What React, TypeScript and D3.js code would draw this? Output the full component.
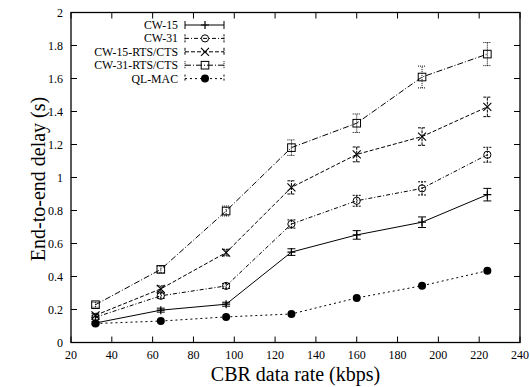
import * as d3 from "d3";

const rates = [32, 64, 96, 128, 160, 192, 224];
const cw15 = [0.118, 0.196, 0.232, 0.548, 0.652, 0.729, 0.896];
const cw15Err = [0.01, 0.012, 0.012, 0.02, 0.026, 0.032, 0.038];
const cw31 = [0.153, 0.283, 0.343, 0.718, 0.859, 0.934, 1.138];
const cw31Err = [0.012, 0.015, 0.015, 0.025, 0.033, 0.04, 0.045];
const cw15Rts = [0.165, 0.325, 0.545, 0.94, 1.14, 1.248, 1.428];
const cw15RtsErr = [0.012, 0.018, 0.02, 0.04, 0.045, 0.053, 0.059];
const cw31Rts = [0.229, 0.443, 0.797, 1.181, 1.329, 1.609, 1.748];
const cw31RtsErr = [0.015, 0.02, 0.03, 0.047, 0.056, 0.066, 0.07];
const qlMac = [0.115, 0.13, 0.155, 0.173, 0.27, 0.344, 0.435];

const xTicks = [20, 40, 60, 80, 100, 120, 140, 160, 180, 200, 220, 240];
const yTicks = [0, 0.2, 0.4, 0.6, 0.8, 1, 1.2, 1.4, 1.6, 1.8, 2];

type Marker = "plus" | "circle" | "cross" | "square" | "dot";

interface Series
{
    name: string;
    values: number[];
    err: number[] | null;
    dash: string;
    errDash: string;
    marker: Marker;
}

const series: Series[] = [
    { name: "CW-15", values: cw15, err: cw15Err, dash: "none", errDash: "none", marker: "plus" },
    { name: "CW-31", values: cw31, err: cw31Err, dash: "4,2,1,2", errDash: "2,1", marker: "circle" },
    { name: "CW-15-RTS/CTS", values: cw15Rts, err: cw15RtsErr, dash: "4,2", errDash: "3,1", marker: "cross" },
    { name: "CW-31-RTS/CTS", values: cw31Rts, err: cw31RtsErr, dash: "6,2,1,2", errDash: "1,1", marker: "square" },
    { name: "QL-MAC", values: qlMac, err: null, dash: "2,3", errDash: "2,2", marker: "dot" },
];

const W = 530;
const H = 387;
const L = 71, R = 520, T = 12.5, B = 342.5;
const FONT = "Liberation Serif, Times New Roman";

function MarkerShape ( { type, x, y }: { type: Marker; x: number; y: number } )
{
    const s = 4;
    switch ( type )
    {
        case "plus":
            return <path d={ `M${ x - s },${ y }H${ x + s }M${ x },${ y - s }V${ y + s }` } stroke="#000" strokeWidth={ 1.2 } fill="none" />;
        case "circle":
            return <circle cx={ x } cy={ y } r={ 3.6 } stroke="#000" strokeWidth={ 1 } fill="none" />;
        case "cross":
            return <path d={ `M${ x - s },${ y - s }L${ x + s },${ y + s }M${ x - s },${ y + s }L${ x + s },${ y - s }` } stroke="#000" strokeWidth={ 1.1 } fill="none" />;
        case "square":
            return <rect x={ x - 3.8 } y={ y - 3.8 } width={ 7.6 } height={ 7.6 } stroke="#000" strokeWidth={ 1 } fill="none" />;
        case "dot":
            return <circle cx={ x } cy={ y } r={ 4 } fill="#000" />;
    }
}

export default function App ()
{
    const x = d3.scaleLinear().domain( [ 20, 240 ] ).range( [ L, R ] );
    const y = d3.scaleLinear().domain( [ 0, 2 ] ).range( [ B, T ] );
    const line = d3.line<number>().x( ( _, i ) => x( rates[ i ] ) ).y( ( d ) => y( d ) );
    const tick = 6;
    const cap = 4;

    const legX1 = 185, legX2 = 224, legTextX = 178, legY0 = 25, legDy = 13.4;

    return (
        <svg width={ W } height={ H } fontFamily={ FONT } style={ { position: "absolute", left: 0, top: 0, background: "#fff" } }>
            <rect x={ 0 } y={ 0 } width={ W } height={ H } fill="#fff" />

            {/* ticks, mirrored on all sides */ }
            { xTicks.map( ( t ) => (
                <g key={ `xt${ t }` }>
                    <line x1={ x( t ) } x2={ x( t ) } y1={ B } y2={ B - tick } stroke="#000" strokeWidth={ 1 } />
                    <line x1={ x( t ) } x2={ x( t ) } y1={ T } y2={ T + tick } stroke="#000" strokeWidth={ 1 } />
                    <text x={ x( t ) } y={ 359 } textAnchor="middle" fontSize={ 12 } fill="#000">{ t }</text>
                </g>
            ) ) }
            { yTicks.map( ( t ) => (
                <g key={ `yt${ t }` }>
                    <line x1={ L } x2={ L + tick } y1={ y( t ) } y2={ y( t ) } stroke="#000" strokeWidth={ 1 } />
                    <line x1={ R } x2={ R - tick } y1={ y( t ) } y2={ y( t ) } stroke="#000" strokeWidth={ 1 } />
                    <text x={ 63 } y={ y( t ) + 4 } textAnchor="end" fontSize={ 12 } fill="#000">{ t === 0 || t === 1 || t === 2 ? String( t ) : t.toFixed( 1 ) }</text>
                </g>
            ) ) }
            <rect x={ L } y={ T } width={ R - L } height={ B - T } fill="none" stroke="#000" strokeWidth={ 1.3 } />

            {/* series */ }
            { series.map( ( s ) => (
                <g key={ s.name }>
                    <path d={ line( s.values ) ?? "" } fill="none" stroke="#000" strokeWidth={ 1 }
                        strokeDasharray={ s.dash } />
                    { s.err && s.values.map( ( v, i ) =>
                    {
                        const cx = x( rates[ i ] );
                        const y1 = y( v - s.err![ i ] ), y2 = y( v + s.err![ i ] );
                        return (
                            <path key={ i } d={ `M${ cx },${ y1 }V${ y2 }M${ cx - cap },${ y1 }H${ cx + cap }M${ cx - cap },${ y2 }H${ cx + cap }` }
                                fill="none" stroke="#000" strokeWidth={ 1 } strokeDasharray={ s.errDash } />
                        );
                    } ) }
                    { s.values.map( ( v, i ) => <MarkerShape key={ i } type={ s.marker } x={ x( rates[ i ] ) } y={ y( v ) } /> ) }
                </g>
            ) ) }

            {/* legend */ }
            { series.map( ( s, i ) =>
            {
                const ly = legY0 + i * legDy;
                return (
                    <g key={ `leg${ s.name }` }>
                        <text x={ legTextX } y={ ly + 4 } textAnchor="end" fontSize={ 11.8 } fill="#000">{ s.name }</text>
                        <line x1={ legX1 } x2={ legX2 } y1={ ly } y2={ ly } stroke="#000" strokeWidth={ 1 } strokeDasharray={ s.dash } />
                        <line x1={ legX1 } x2={ legX1 } y1={ ly - 4 } y2={ ly + 4 } stroke="#000" strokeWidth={ 1 } strokeDasharray={ s.errDash } />
                        <line x1={ legX2 } x2={ legX2 } y1={ ly - 4 } y2={ ly + 4 } stroke="#000" strokeWidth={ 1 } strokeDasharray={ s.errDash } />
                        <MarkerShape type={ s.marker } x={ ( legX1 + legX2 ) / 2 + 0.5 } y={ ly } />
                    </g>
                );
            } ) }

            {/* axis titles */ }
            <text x={ ( L + R ) / 2 } y={ 381 } textAnchor="middle" fontSize={ 20 } fill="#000">CBR data rate (kbps)</text>
            <text transform={ `translate(45,179) rotate(-90)` } textAnchor="middle" fontSize={ 20 } fill="#000">End-to-end delay (s)</text>
        </svg>
    );
}
